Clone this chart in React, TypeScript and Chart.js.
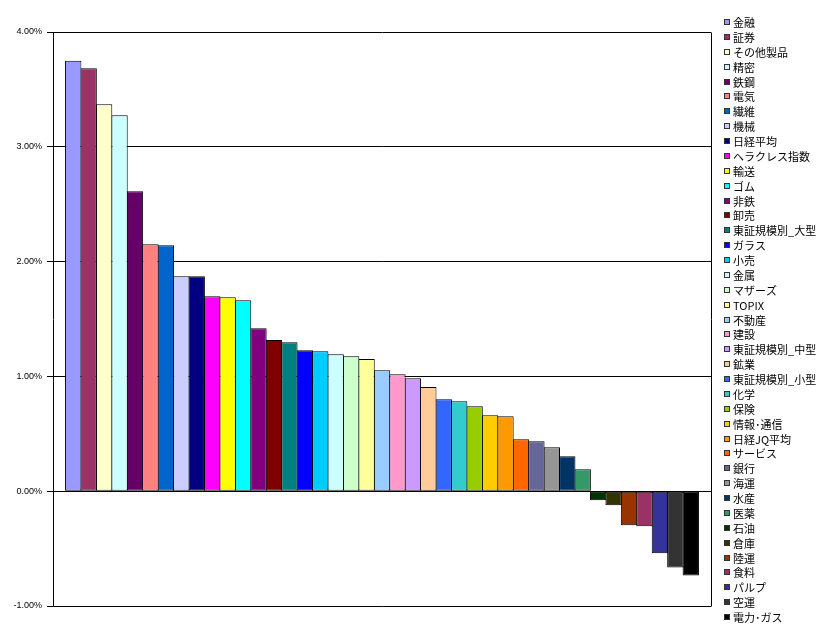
import React, { useEffect, useRef } from 'react';
import { Chart, registerables } from 'chart.js';

Chart.register(...registerables);

const seriesNames: string[] = [
  '金融', '証券', 'その他製品', '精密', '鉄鋼', '電気', '繊維', '機械', '日経平均', 'ヘラクレス指数',
  '輸送', 'ゴム', '非鉄', '卸売', '東証規模別_大型', 'ガラス', '小売', '金属', 'マザーズ', 'TOPIX',
  '不動産', '建設', '東証規模別_中型', '鉱業', '東証規模別_小型', '化学', '保険', '情報･通信', '日経JQ平均', 'サービス',
  '銀行', '海運', '水産', '医薬', '石油', '倉庫', '陸運', '食料', 'パルプ', '空運', '電力･ガス',
];

// percent change
const seriesValues: number[] = [
  3.75, 3.685, 3.37, 3.275, 2.613, 2.152, 2.143, 1.873, 1.873, 1.699,
  1.69, 1.664, 1.42, 1.316, 1.298, 1.228, 1.22, 1.193, 1.176, 1.152,
  1.054, 1.019, 0.984, 0.908, 0.801, 0.784, 0.74, 0.662, 0.653, 0.453,
  0.436, 0.383, 0.305, 0.192, -0.078, -0.122, -0.296, -0.305, -0.54, -0.665, -0.735,
];

const seriesColors: string[] = [
  '#9999FF', '#993366', '#FFFFCC', '#CCFFFF', '#660066', '#FF8080', '#0066CC', '#CCCCFF', '#000080', '#FF00FF',
  '#FFFF00', '#00FFFF', '#800080', '#800000', '#008080', '#0000FF', '#00CCFF', '#CCFFFF', '#CCFFCC', '#FFFF99',
  '#99CCFF', '#FF99CC', '#CC99FF', '#FFCC99', '#3366FF', '#33CCCC', '#99CC00', '#FFCC00', '#FF9900', '#FF6600',
  '#666699', '#969696', '#003366', '#339966', '#003300', '#333300', '#993300', '#993366', '#333399', '#333333', '#000000',
];

const yMin = -1;
const yMax = 4;
const yStep = 1;

const excelLegend = {
  id: 'excelLegend',
  afterDraw(chart: any) {
    const { ctx, chartArea } = chart;
    ctx.save();
    // plot area frame (right side)
    ctx.strokeStyle = '#000';
    ctx.lineWidth = 1;
    const r = Math.round(chartArea.right) + 0.5;
    const t = Math.round(chartArea.top) + 0.5;
    const b = Math.round(chartArea.bottom) + 0.5;
    ctx.beginPath();
    ctx.moveTo(r, t);
    ctx.lineTo(r, b);
    ctx.stroke();

    // legend
    const datasets = chart.data.datasets;
    const x0 = Math.round(chartArea.right) + 13;
    const yStart = 22;
    const rowH = 14.875;
    ctx.font = "11px 'Noto Sans CJK JP'";
    ctx.textBaseline = 'middle';
    ctx.textAlign = 'left';
    datasets.forEach((ds: any, i: number) => {
      const cy = Math.round(yStart + i * rowH);
      ctx.fillStyle = ds.backgroundColor;
      ctx.fillRect(x0, cy - 3, 6, 6);
      ctx.strokeStyle = '#333';
      ctx.strokeRect(x0 + 0.5, cy - 3 + 0.5, 5, 5);
      ctx.fillStyle = '#000';
      ctx.fillText(ds.label, x0 + 9, cy + 1);
    });
    ctx.restore();
  },
};

export default function App() {
  const canvasRef = useRef<HTMLCanvasElement | null>(null);

  useEffect(() => {
    if (!canvasRef.current) return;
    const chart = new Chart(canvasRef.current, {
      type: 'bar',
      data: {
        labels: [''],
        datasets: seriesNames.map((name, i) => ({
          label: name,
          data: [seriesValues[i]],
          backgroundColor: seriesColors[i],
          borderColor: '#000',
          borderWidth: 1,
          borderSkipped: false,
          categoryPercentage: 0.962,
          barPercentage: 1.06,
        })),
      },
      options: {
        animation: false,
        responsive: true,
        maintainAspectRatio: false,
        layout: { padding: { top: 32, bottom: 30, left: 0, right: 119 } },
        plugins: {
          legend: { display: false },
          tooltip: { enabled: false },
        },
        scales: {
          x: { display: false },
          y: {
            min: yMin,
            max: yMax,
            afterFit(scale: any) {
              scale.width = 53;
            },
            ticks: {
              stepSize: yStep,
              padding: 5,
              color: '#000',
              font: { family: "'Liberation Sans', Arial", size: 9 },
              callback: (v: any) => Number(v).toFixed(2) + '%',
            },
            grid: {
              color: '#000',
              lineWidth: 1,
              tickLength: 6,
              drawTicks: true,
            },
            border: { display: true, color: '#000', width: 1 },
          },
        },
      },
      plugins: [excelLegend],
    });
    return () => chart.destroy();
  }, []);

  return (
    <div style={{ position: 'absolute', left: 0, top: 0, width: 830, height: 636, background: '#fff' }}>
      <canvas ref={canvasRef} />
    </div>
  );
}
